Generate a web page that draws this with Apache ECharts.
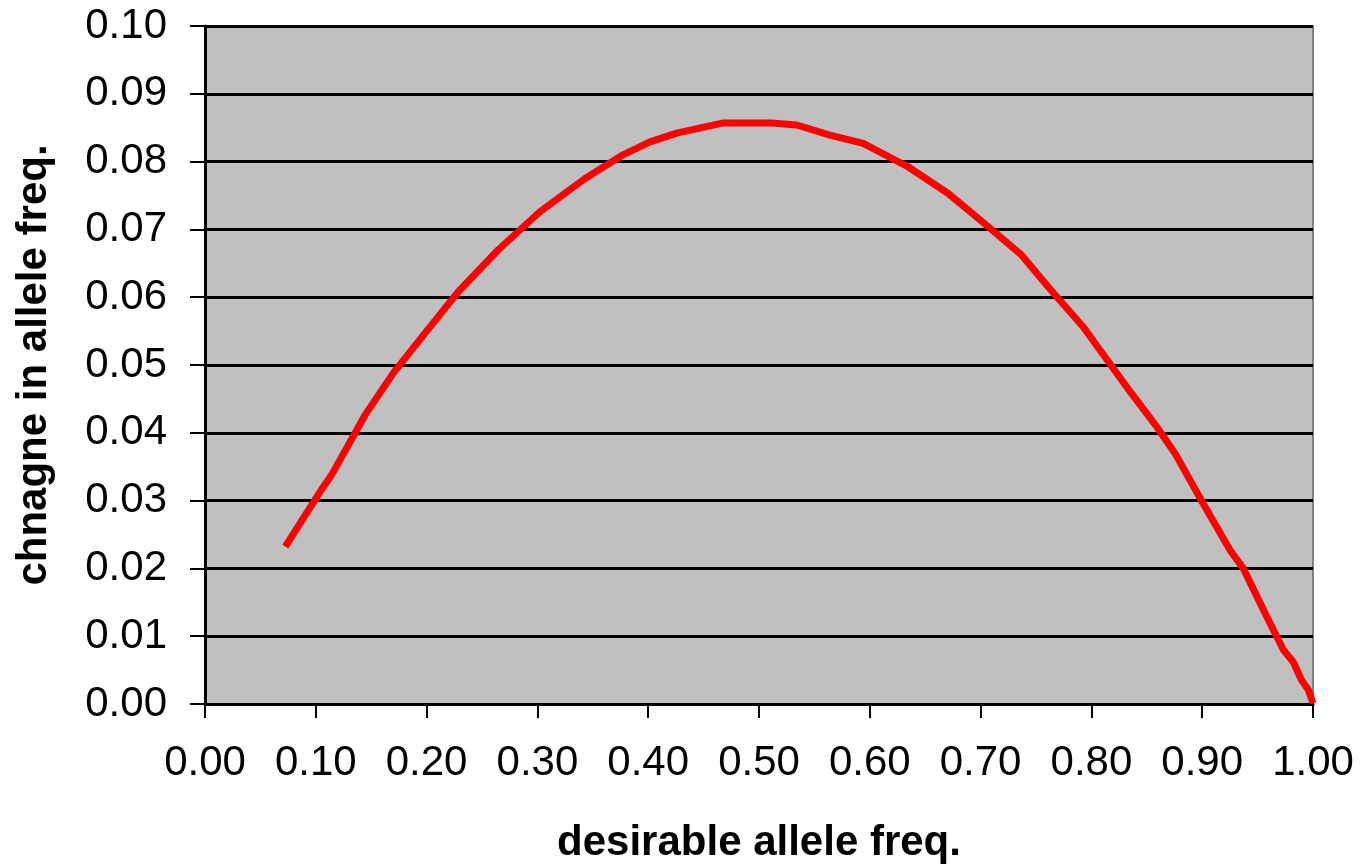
<!DOCTYPE html>
<html>
<head>
<meta charset="utf-8">
<script src="https://cdn.jsdelivr.net/npm/echarts@6/dist/echarts.min.js"></script>
<style>
  html, body { margin: 0; padding: 0; background: #ffffff; }
  #chart { width: 1364px; height: 866px; }
</style>
</head>
<body>
<div id="chart"></div>
<script>
// Desirable allele frequency (x) and per-generation change in that frequency (y)
const alleleFreq = [
  0.0725, 0.1038, 0.1143, 0.1444, 0.1699, 0.1986, 0.2286, 0.2647, 0.3023,
  0.3430, 0.3773, 0.4016, 0.4257, 0.4678, 0.5115, 0.5340, 0.5640, 0.5941,
  0.6348, 0.6708, 0.7055, 0.7371, 0.7626, 0.7927, 0.8348, 0.8589, 0.8754,
  0.9025, 0.9251, 0.9371, 0.9567, 0.9732, 0.9822, 0.9897, 0.9958, 1.0000
];
const freqChange = [
  0.0232, 0.0313, 0.0338, 0.0426, 0.0488, 0.0547, 0.0608, 0.0670, 0.0726,
  0.0775, 0.0810, 0.0829, 0.0842, 0.0857, 0.0857, 0.0854, 0.0839, 0.0827,
  0.0792, 0.0753, 0.0706, 0.0662, 0.0612, 0.0556, 0.0461, 0.0409, 0.0370,
  0.0291, 0.0227, 0.0200, 0.0134, 0.0080, 0.0062, 0.0035, 0.0021, 0.0001
];

const xTitle = 'desirable allele freq.';
const yTitle = 'chnagne in allele freq.';

const points = alleleFreq.map((x, i) => [x, freqChange[i]]);

const fontFamily = '"Liberation Sans", Arial, sans-serif';

const chart = echarts.init(document.getElementById('chart'), null, { renderer: 'canvas' });

chart.setOption({
  animation: false,
  backgroundColor: '#ffffff',
  grid: {
    left: 205,
    right: 51,
    top: 26,
    bottom: 162,
    containLabel: false,
    outerBoundsMode: 'none',
    show: true,
    backgroundColor: '#c0c0c0',
    borderColor: '#808080',
    borderWidth: 2
  },
  xAxis: {
    type: 'value',
    min: 0,
    max: 1,
    interval: 0.1,
    name: xTitle,
    nameLocation: 'middle',
    nameGap: 118,
    nameTextStyle: { fontFamily, fontSize: 42, fontWeight: 'bold', color: '#000' },
    axisLine: { show: true, onZero: false, lineStyle: { color: '#000', width: 3 } },
    axisTick: { show: true, inside: false, length: 14, lineStyle: { color: '#000', width: 2 } },
    axisLabel: {
      fontFamily, fontSize: 42, color: '#000', margin: 38,
      formatter: v => v.toFixed(2)
    },
    splitLine: { show: false }
  },
  yAxis: {
    type: 'value',
    min: 0,
    max: 0.1,
    interval: 0.01,
    name: yTitle,
    nameLocation: 'middle',
    nameGap: 150,
    nameRotate: 90,
    nameTextStyle: { fontFamily, fontSize: 42, fontWeight: 'bold', color: '#000' },
    axisLine: { show: true, lineStyle: { color: '#000', width: 3 } },
    axisTick: { show: true, inside: false, length: 15, lineStyle: { color: '#000', width: 2 } },
    axisLabel: {
      fontFamily, fontSize: 42, color: '#000', margin: 38,
      formatter: v => v.toFixed(2)
    },
    splitLine: { show: true, lineStyle: { color: '#000', width: 3 } }
  },
  series: [{
    type: 'line',
    data: points,
    showSymbol: false,
    symbol: 'none',
    clip: false,
    lineStyle: { color: '#ff0000', width: 7 },
    z: 5
  }]
});
</script>
</body>
</html>
